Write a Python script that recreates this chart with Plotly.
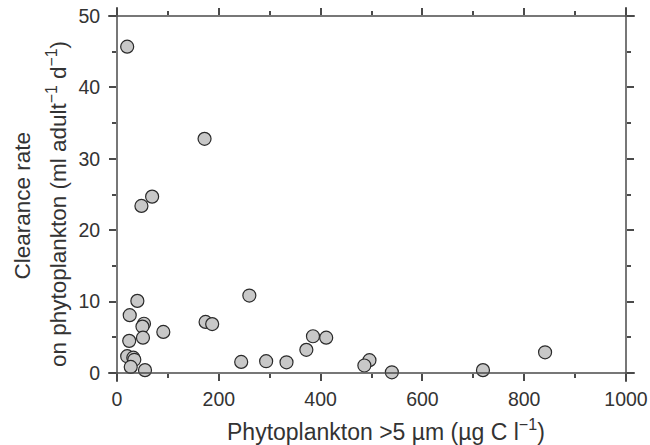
import plotly.graph_objects as go

phyto = [20, 172, 69, 48, 40, 25, 53, 50, 91, 24, 51, 20, 32, 34, 27, 55,
         174, 187, 260, 244, 293, 333, 372, 385, 411, 496, 486, 540, 719, 841]
clearance = [45.7, 32.8, 24.7, 23.4, 10.1, 8.1, 6.9, 6.5, 5.75, 4.5, 4.95, 2.35, 2.15, 1.85, 0.85, 0.4,
             7.15, 6.85, 10.85, 1.55, 1.65, 1.5, 3.25, 5.15, 4.95, 1.8, 1.05, 0.1, 0.4, 2.9]

x_ticks = [0, 200, 400, 600, 800, 1000]
y_ticks = [0, 10, 20, 30, 40, 50]

x_title = "Phytoplankton >5 µm (µg C l<sup>−1</sup>)"
y_title_1 = "Clearance rate"
y_title_2 = "on phytoplankton (ml adult<sup>−1</sup> d<sup>−1</sup>)"

axis_col = "#4a4a4a"
text_col = "#333333"
font_family = "Liberation Sans, Arial, sans-serif"

fig = go.Figure()
fig.add_trace(go.Scatter(
    x=phyto, y=clearance, mode="markers",
    marker=dict(size=13, color="#c8c8c8", line=dict(color="#2a2a2a", width=1.2)),
    cliponaxis=False, showlegend=False,
))

common = dict(
    ticks="outside", ticklen=7, tickwidth=1.5, tickcolor=axis_col,
    showgrid=False, zeroline=False, showline=False, mirror="ticks",
    ticklabeloverflow="allow",
    tickfont=dict(size=19.5, color=text_col, family=font_family),
)

fig.update_xaxes(
    range=[0, 1000], tickvals=x_ticks, ticklabelstandoff=2, **common,
    minor=dict(dtick=100, ticks="outside", ticklen=4, tickwidth=1.5, tickcolor=axis_col, showgrid=False),
)
fig.update_yaxes(
    range=[0, 50], tickvals=y_ticks, ticklabelstandoff=5, **common,
    minor=dict(dtick=5, ticks="outside", ticklen=4, tickwidth=1.5, tickcolor=axis_col, showgrid=False),
)

x_title_font = dict(size=23, color=text_col, family=font_family)
y_title_font = dict(size=22.5, color=text_col, family=font_family)
fig.add_annotation(text=x_title, xref="paper", yref="paper", x=0.529, y=-0.1606,
                   xanchor="center", yanchor="middle", showarrow=False, font=x_title_font)
fig.add_annotation(text=y_title_1, xref="paper", yref="paper", x=-0.186, y=0.470,
                   xanchor="center", yanchor="middle", textangle=-90, showarrow=False, font=y_title_font)
fig.add_annotation(text=y_title_2, xref="paper", yref="paper", x=-0.118, y=0.473,
                   xanchor="center", yanchor="middle", textangle=-90, showarrow=False, font=y_title_font)

# frame lines that overshoot the corners slightly
ox = 9 / 509.5
oy = 9 / 356.7
line = dict(color=axis_col, width=1.5)
fig.add_shape(type="line", xref="paper", yref="paper", x0=-ox, x1=1 + ox, y0=0, y1=0, line=line)
fig.add_shape(type="line", xref="paper", yref="paper", x0=-ox, x1=1 + ox, y0=1, y1=1, line=line)
fig.add_shape(type="line", xref="paper", yref="paper", x0=0, x1=0, y0=-oy, y1=1 + oy, line=line)
fig.add_shape(type="line", xref="paper", yref="paper", x0=1, x1=1, y0=-oy, y1=1 + oy, line=line)

fig.update_layout(
    width=650, height=445,
    margin=dict(l=116.5, r=24, t=16, b=72.3, autoexpand=False),
    paper_bgcolor="white", plot_bgcolor="white",
    font=dict(family=font_family, color=text_col),
)

# remove the browser's default 8px body margin so the figure fills the window exactly
fig.write_html("out.html", config={"displayModeBar": False},
               post_script="document.body.style.margin='0';")
